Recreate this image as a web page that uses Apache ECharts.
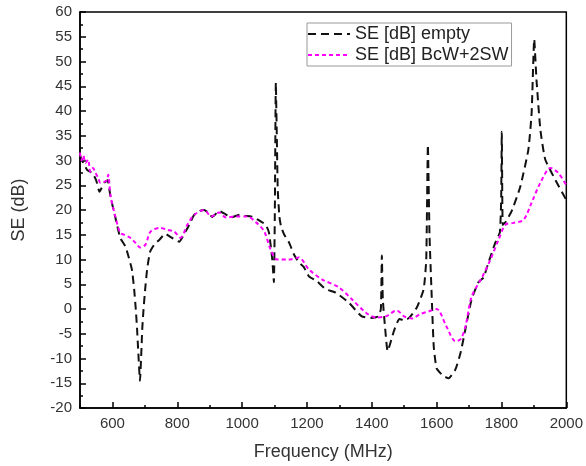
<!DOCTYPE html>
<html>
<head>
<meta charset="utf-8">
<script src="https://cdn.jsdelivr.net/npm/echarts@6/dist/echarts.min.js"></script>
<style>
  html, body { margin: 0; padding: 0; background: #fff; }
  #chart { width: 586px; height: 466px; }
</style>
</head>
<body>
<div id="chart"></div>
<script>
/* global echarts */

// SE [dB] empty
const emptyFreq = [500, 510, 523, 538, 550, 560, 575, 585, 594, 609, 624, 641, 660, 667, 672, 676, 680, 685, 689, 692, 696, 701, 707, 716, 729, 745, 763, 780, 806, 820, 837, 852, 870, 883, 895, 908, 929, 945, 966, 990, 1010, 1028, 1050, 1073, 1083, 1093, 1098, 1101, 1104, 1107, 1110, 1115, 1120, 1130, 1145, 1160, 1175, 1190, 1206, 1231, 1258, 1289, 1329, 1369, 1400, 1420, 1428, 1431, 1434, 1440, 1449, 1468, 1485, 1500, 1515, 1539, 1560, 1568, 1573, 1578, 1584, 1591, 1600, 1620, 1637, 1658, 1674, 1689, 1708, 1729, 1745, 1760, 1781, 1795, 1799, 1801, 1804, 1812, 1831, 1858, 1883, 1893, 1901, 1908, 1920, 1935, 1966, 2000]
const emptySE = [31, 29.5, 28, 27.5, 26, 23.7, 25.5, 26, 22.7, 18.5, 14.4, 12.5, 8, 4, 0, -4, -9, -14.5, -9, -4, 0, 4, 8, 11.5, 13, 14, 15.2, 14.5, 13.6, 15, 17, 19, 19.8, 20, 19.5, 18.6, 19.8, 19.3, 18.5, 19, 18.8, 18.7, 18, 17, 15.4, 10, 5.4, 20, 45.7, 35, 24, 18.7, 16.7, 15, 13.4, 11, 9.4, 8.5, 6.6, 5.6, 4, 3.3, 1.3, -1.5, -1.8, -1.5, 0, 10.8, 2, -3, -8.5, -4.5, -2, -2.3, -1.8, 0.3, 4, 10, 33.2, 15, 4, -7.5, -12, -13.5, -14, -12.2, -8.8, -4, 2, 5.4, 6.4, 9.4, 13.4, 15.5, 22, 35.8, 17, 17.5, 19.7, 24.7, 32.2, 39.6, 54.5, 46.3, 36.2, 30.2, 26.1, 22]

// SE [dB] BcW+2SW
const bcwFreq = [500, 505, 510, 517, 525, 532, 540, 548, 556, 563, 575, 583, 587, 594, 609, 624, 636, 655, 672, 686, 702, 717, 746, 769, 791, 810, 831, 852, 883, 905, 929, 950, 981, 1016, 1043, 1068, 1088, 1108, 1145, 1175, 1206, 1246, 1298, 1338, 1381, 1412, 1443, 1477, 1500, 1524, 1550, 1575, 1600, 1630, 1658, 1674, 1689, 1708, 1740, 1766, 1791, 1812, 1837, 1868, 1893, 1920, 1951, 1975, 2000]
const bcwSE = [31.6, 30, 31, 29.5, 30.2, 27.7, 28.5, 27.5, 26.5, 25.5, 25.7, 26, 27.1, 23, 18.7, 15.4, 15, 14.4, 13.3, 12.4, 13, 15.6, 16.4, 16, 15.6, 14.4, 17, 19, 20, 18.7, 19.5, 18.5, 18.7, 18.7, 17.5, 15.7, 12, 10, 10, 10.4, 8, 6, 4.4, 2, -0.7, -1.7, -1.5, -0.3, -1.5, -1.9, -1, -0.5, 0, -3.5, -6.5, -6.1, -3.5, 2.5, 6.4, 10, 14, 17, 17.4, 18, 21.5, 25.5, 28.5, 27.5, 25]

const seriesNames = ['SE [dB] empty', 'SE [dB] BcW+2SW']

const xMajor = [600, 800, 1000, 1200, 1400, 1600, 1800, 2000]
const xMinor = [500, 700, 900, 1100, 1300, 1500, 1700, 1900]

const zip = (xs, ys) => xs.map((x, i) => [x, ys[i]])

const textColor = '#333'
const font = 'Liberation Sans, Arial, sans-serif'

const chart = echarts.init(document.getElementById('chart'))
chart.setOption({
  animation: false,
  grid: {
    left: 80, right: 18, top: 12, bottom: 58,
    show: true, borderColor: '#000', borderWidth: 1.5
  },
  legend: {
    orient: 'vertical',
    left: 307, top: 23,
    borderColor: '#999', borderWidth: 1,
    padding: [2, 3, 2, 0],
    itemWidth: 42, itemHeight: 19, itemGap: 3,
    itemStyle: { opacity: 0 },
    textStyle: { fontSize: 18, color: '#222', fontFamily: font },
    data: seriesNames.map(name => ({ name }))
  },
  xAxis: [
    {
      type: 'value', min: 500, max: 2000, interval: 100,
      name: 'Frequency (MHz)', nameLocation: 'middle', nameGap: 35,
      nameTextStyle: { fontSize: 18, color: textColor, fontFamily: font },
      axisLine: { onZero: false, lineStyle: { color: '#000', width: 1.5 } },
      axisTick: { inside: true, length: 6, customValues: xMajor, lineStyle: { color: '#000', width: 1.5 } },
      axisLabel: { customValues: xMajor, formatter: v => String(v), fontSize: 15, color: textColor, fontFamily: font, margin: 8 },
      splitLine: { show: false }
    },
    {
      type: 'value', min: 500, max: 2000, interval: 100, position: 'bottom',
      axisLine: { show: false, onZero: false },
      axisTick: { inside: true, length: 3, customValues: xMinor, lineStyle: { color: '#000', width: 1.5 } },
      axisLabel: { show: false },
      splitLine: { show: false }
    }
  ],
  yAxis: {
    type: 'value', min: -20, max: 60, interval: 5,
    name: 'SE (dB)', nameLocation: 'middle', nameGap: 52,
    nameTextStyle: { fontSize: 18, color: textColor, fontFamily: font },
    axisLine: { show: true, onZero: false, lineStyle: { color: '#000', width: 1.5 } },
    axisTick: { show: true, inside: true, length: 6, lineStyle: { color: '#000', width: 1.5 } },
    minorTick: { show: true, splitNumber: 2, length: 3, lineStyle: { color: '#000', width: 1.5 } },
    axisLabel: { fontSize: 15, color: textColor, fontFamily: font, margin: 8 },
    splitLine: { show: false }
  },
  series: [
    {
      name: seriesNames[0], type: 'line', xAxisIndex: 0,
      data: zip(emptyFreq, emptySE),
      symbol: 'none', smooth: 0.15,
      lineStyle: { color: '#111', width: 2, type: [8, 5] },
      itemStyle: { color: '#111' },
      z: 2
    },
    {
      name: seriesNames[1], type: 'line', xAxisIndex: 0,
      data: zip(bcwFreq, bcwSE),
      symbol: 'none', smooth: 0.3,
      lineStyle: { color: '#ff00ff', width: 2, type: [4, 3] },
      itemStyle: { color: '#ff00ff' },
      z: 3
    }
  ]
})
</script>
</body>
</html>
